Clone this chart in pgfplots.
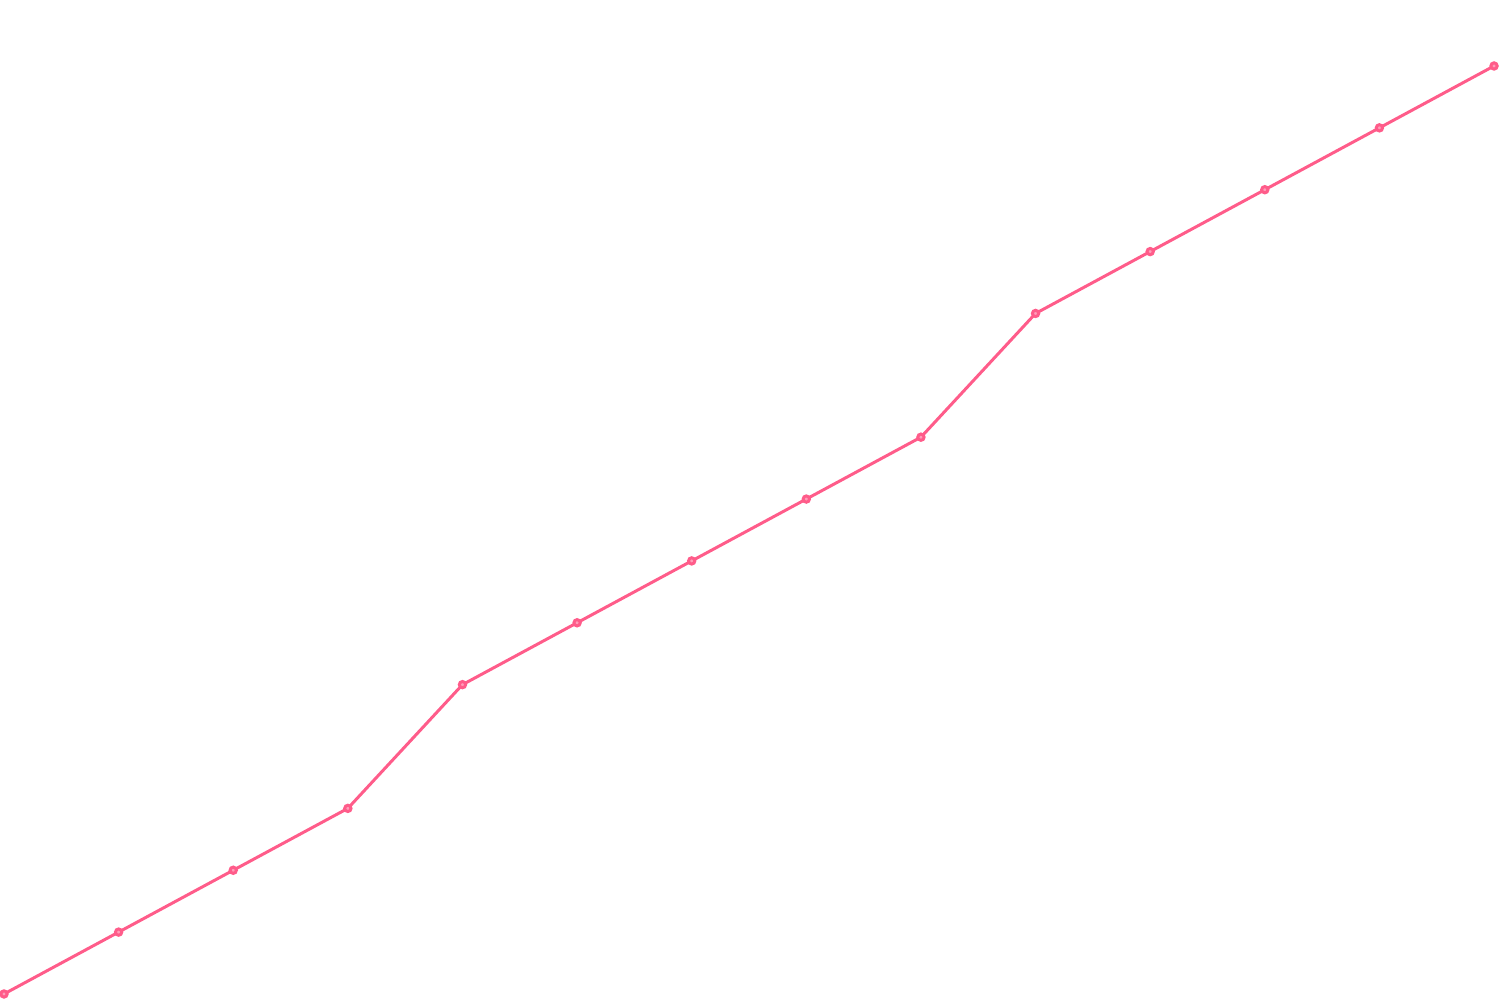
\documentclass[border=0pt]{standalone}
\usepackage{pgfplots}
\pgfplotsset{compat=1.18}
\definecolor{linepink}{HTML}{FF5C8A}
\begin{document}
\begin{tikzpicture}
\begin{axis}[
    width=15cm, height=10cm,
    scale only axis,
    hide axis,
    clip=false,
    xmin=-0.0349, xmax=13.052,
    ymin=-0.097, ymax=16.067]
% keep the whole axis box as the page
\path (rel axis cs:0,0) (rel axis cs:1,1);
\addplot[color=linepink, line width=0.85pt, mark=*, mark size=0.9pt,
    mark options={fill=linepink!60, draw=linepink}]
    coordinates {(0,0) (1,1) (2,2) (3,3) (4,5) (5,6) (6,7) (7,8) (8,9)
    (9,11) (10,12) (11,13) (12,14) (13,15)};
\end{axis}
\end{tikzpicture}
\end{document}
